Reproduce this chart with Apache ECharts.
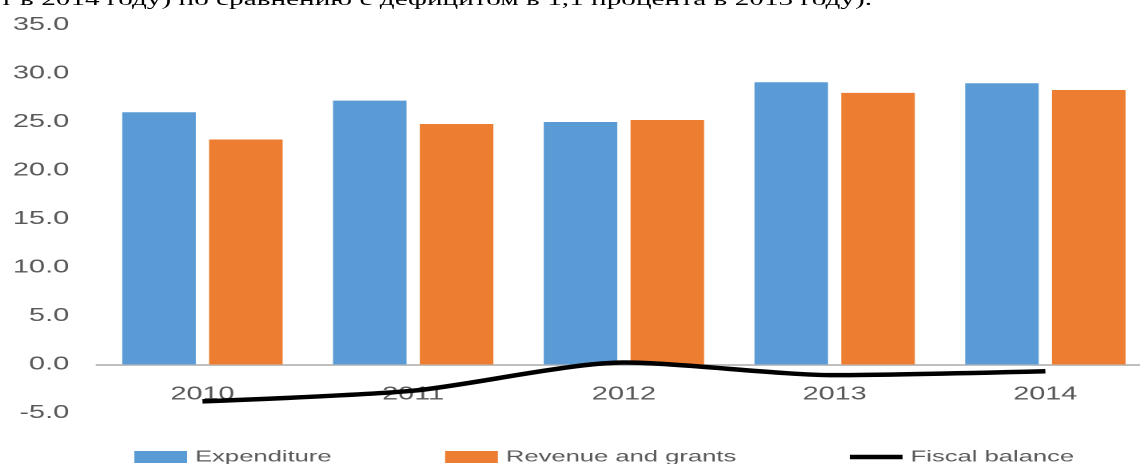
<!DOCTYPE html>
<html>
<head>
<meta charset="utf-8">
<script src="https://cdn.jsdelivr.net/npm/echarts@6/dist/echarts.min.js"></script>
<style>
  html, body { margin: 0; padding: 0; background: #ffffff; width: 1140px; height: 464px; overflow: hidden; }
  #wrap { position: absolute; left: 0; top: 0; width: 713px; height: 464px; overflow: hidden; transform-origin: 0 0; transform: scaleX(1.5989); }
  #chart { width: 730px; height: 464px; }
  #note { position: absolute; left: 0; top: -10px; font-family: "Liberation Serif", serif; font-size: 18.3px; line-height: 19px; color: #000; white-space: nowrap; z-index: 5; }
</style>
</head>
<body>
<div id="wrap"><div id="chart"></div><div id="note">т в 2014 году) по сравнению с дефицитом в 1,1 процента в 2013 году).</div></div>
<script>
const years = ['2010', '2011', '2012', '2013', '2014'];
const expenditure = [26.0, 27.2, 25.0, 29.1, 29.0];
const revenueAndGrants = [23.2, 24.8, 25.2, 28.0, 28.3];
const fiscalBalance = [-3.8, -2.7, 0.2, -1.1, -0.7];
const seriesNames = ['Expenditure', 'Revenue and grants', 'Fiscal balance'];

const chart = echarts.init(document.getElementById('chart'), null, { renderer: 'canvas', devicePixelRatio: 2 });
const labelFont = { fontFamily: 'Liberation Sans, Arial, sans-serif', fontSize: 18, color: '#595959' };

chart.setOption({
  animation: false,
  backgroundColor: 'transparent',
  grid: { left: 60.7, right: 10.3, top: 25, bottom: 51, containLabel: false },
  legend: {
    left: 79,
    top: 444,
    itemWidth: 33,
    itemHeight: 12,
    itemGap: 71,
    textStyle: { fontFamily: 'Liberation Sans, Arial, sans-serif', fontSize: 16, color: '#595959' },
    data: [
      { name: seriesNames[0], icon: 'rect' },
      { name: seriesNames[1], icon: 'rect' },
      { name: seriesNames[2], icon: 'path://M0,0L33,0L33,4.5L0,4.5Z', itemStyle: { color: '#000000' } }
    ]
  },
  xAxis: {
    type: 'category',
    data: years,
    position: 'bottom',
    offset: -48.5,
    axisLine: { onZero: false, lineStyle: { color: '#bfbfbf', width: 2 } },
    axisTick: { show: false },
    axisLabel: Object.assign({ margin: 21 }, labelFont),
    splitLine: { show: false }
  },
  yAxis: {
    type: 'value',
    min: -5,
    max: 35,
    interval: 5,
    axisLine: { show: false },
    axisTick: { show: false },
    splitLine: { show: false },
    axisLabel: Object.assign({ margin: 17.5, formatter: v => v.toFixed(1) }, labelFont)
  },
  series: [
    {
      name: seriesNames[0],
      type: 'bar',
      data: expenditure,
      barWidth: 46,
      barGap: '18%',
      itemStyle: { color: '#5b9bd5' }
    },
    {
      name: seriesNames[1],
      type: 'bar',
      data: revenueAndGrants,
      barWidth: 46,
      barGap: '18%',
      itemStyle: { color: '#ed7d31' }
    },
    {
      name: seriesNames[2],
      type: 'line',
      data: fiscalBalance,
      smooth: 0.25,
      symbol: 'none',
      z: 5,
      lineStyle: { color: '#000000', width: 4.5 },
      itemStyle: { color: '#000000' }
    }
  ]
});
</script>
</body>
</html>
